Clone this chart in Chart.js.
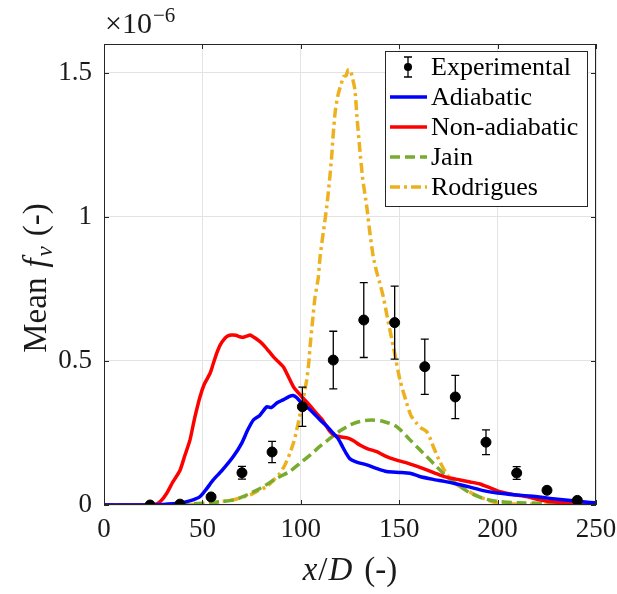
<!DOCTYPE html>
<html>
<head>
<meta charset="utf-8">
<script src="https://cdn.jsdelivr.net/npm/chart.js@4.4.1/dist/chart.umd.min.js"></script>
<style>
  html, body { margin: 0; padding: 0; background: #fff; }
  #wrap { width: 617px; height: 594px; }
</style>
</head>
<body>
<div id="wrap"><canvas id="fvChart" width="617" height="594"></canvas></div>
<script>
// values in units of 1e-6
const expX = [23.4, 38.6, 54.4, 70.1, 85.4, 100.8, 116.5, 132, 147.7, 163, 178.5, 194.1, 209.7, 225.1, 240.5];
const expY = [0.0, 0.003, 0.028, 0.112, 0.184, 0.341, 0.503, 0.642, 0.633, 0.480, 0.375, 0.218, 0.111, 0.051, 0.016];
const expErr = [0.002, 0.003, 0.006, 0.022, 0.037, 0.068, 0.10, 0.13, 0.127, 0.096, 0.075, 0.043, 0.022, 0.010, 0.004];

const adiaX = [0, 20, 30, 38, 44, 48.8, 52, 55.5, 60, 65.7, 70, 73, 75.9, 79, 82.7, 85, 88, 91, 94, 96, 98, 101.3, 104, 107, 109.8, 113, 116.5, 119, 121, 123, 125, 128, 133.5, 138, 143.6, 150, 155.5, 160, 167.3, 173, 179.2, 186, 192.7, 200, 209.7, 218, 226.6, 237, 247, 250];
const adiaY = [0, 0, 0.002, 0.006, 0.015, 0.029, 0.055, 0.087, 0.12, 0.168, 0.215, 0.26, 0.295, 0.31, 0.341, 0.338, 0.355, 0.365, 0.376, 0.38, 0.372, 0.347, 0.335, 0.315, 0.295, 0.275, 0.249, 0.23, 0.205, 0.18, 0.16, 0.15, 0.139, 0.128, 0.116, 0.113, 0.110, 0.1, 0.089, 0.082, 0.073, 0.062, 0.05, 0.042, 0.035, 0.03, 0.023, 0.016, 0.009, 0.008];

const nonAdiaX = [0, 20, 26, 29, 31.8, 35, 38.6, 41, 43.7, 46, 48.8, 51, 53.9, 55.5, 57.3, 59, 61.5, 63, 64.9, 67, 69, 70.8, 72.5, 74.2, 76, 79.3, 82, 86, 88.5, 91.1, 93, 96.2, 98, 101.3, 104, 108, 111, 114.8, 117, 120, 124, 127, 130, 134, 138.6, 143, 148.7, 153, 158.8, 164, 170.7, 175, 180.9, 186, 191, 196, 201.2, 208, 214.8, 220, 226.6, 235, 247, 250];
const nonAdiaY = [0, 0, 0.002, 0.015, 0.04, 0.08, 0.12, 0.17, 0.226, 0.3, 0.376, 0.42, 0.457, 0.49, 0.527, 0.555, 0.579, 0.587, 0.59, 0.589, 0.584, 0.582, 0.586, 0.59, 0.583, 0.567, 0.548, 0.515, 0.498, 0.48, 0.455, 0.411, 0.395, 0.37, 0.35, 0.318, 0.295, 0.255, 0.242, 0.237, 0.232, 0.222, 0.208, 0.195, 0.185, 0.17, 0.156, 0.148, 0.135, 0.122, 0.104, 0.095, 0.087, 0.08, 0.073, 0.06, 0.046, 0.036, 0.029, 0.02, 0.012, 0.008, 0.006, 0.006];

const jainX = [0, 20, 30, 40, 50, 53.9, 60, 65.7, 70, 74.2, 80, 87.8, 94, 99.6, 105, 110, 116.5, 121, 125, 130, 136, 142, 148.7, 155.5, 160, 164, 168, 172.4, 176, 180.9, 186, 192.7, 197, 201.2, 210, 225, 250];
const jainY = [0, 0, 0.001, 0.003, 0.006, 0.008, 0.012, 0.017, 0.027, 0.04, 0.06, 0.093, 0.115, 0.145, 0.175, 0.205, 0.24, 0.262, 0.278, 0.29, 0.295, 0.29, 0.272, 0.226, 0.195, 0.168, 0.14, 0.110, 0.088, 0.064, 0.042, 0.023, 0.016, 0.012, 0.008, 0.006, 0.005];

const rodX = [0, 40, 50, 60, 67, 74.2, 78, 82.7, 86, 89.4, 92, 94.5, 96.5, 97.9, 99.2, 100.4, 101.8, 103, 104, 104.7, 106, 107.2, 108.9, 109.8, 111.5, 113.2, 114.5, 115.7, 116.5, 117.4, 118.5, 119.6, 120.5, 121.6, 123, 124, 125, 126, 127.5, 128.5, 130, 131.5, 133.5, 135, 136.8, 138.5, 140.2, 142, 144, 147, 150.4, 153.8, 156, 158.8, 161, 163.9, 165.5, 167.3, 170, 172.4, 175, 177.5, 181, 184.3, 188, 192.7, 197, 201.2, 210, 230, 250];
const rodY = [0, 0, 0.005, 0.012, 0.02, 0.035, 0.048, 0.064, 0.085, 0.11, 0.14, 0.18, 0.22, 0.26, 0.3, 0.341, 0.39, 0.434, 0.49, 0.55, 0.64, 0.72, 0.79, 0.862, 0.95, 1.036, 1.12, 1.21, 1.29, 1.36, 1.41, 1.441, 1.46, 1.487, 1.49, 1.51, 1.51, 1.49, 1.441, 1.35, 1.233, 1.13, 1.036, 0.95, 0.862, 0.81, 0.77, 0.72, 0.65, 0.55, 0.434, 0.353, 0.31, 0.284, 0.268, 0.255, 0.235, 0.203, 0.16, 0.127, 0.1, 0.081, 0.063, 0.052, 0.037, 0.023, 0.012, 0.006, 0.003, 0.002, 0.002];

const xTicks = [0, 50, 100, 150, 200, 250];
const yTicks = [0, 0.5, 1, 1.5];
const seriesNames = ['Experimental', 'Adiabatic', 'Non-adiabatic', 'Jain', 'Rodrigues'];

const SERIF = '"Liberation Serif", "DejaVu Serif", serif';
const AXIS_COLOR = '#262626';

function pts(xs, ys) {
    return xs.map((x, i) => ({ x: x, y: ys[i] }));
}

// error bars for the experimental points
const errorBarPlugin = {
    id: 'errorBars',
    afterDatasetsDraw(chart) {
        const ctx = chart.ctx;
        const xs = chart.scales.x, ys = chart.scales.y;
        ctx.save();
        ctx.strokeStyle = '#000';
        ctx.lineWidth = 1.3;
        expX.forEach((x, i) => {
            if (expErr[i] < 0.01) return;
            const px = xs.getPixelForValue(x);
            const top = ys.getPixelForValue(expY[i] + expErr[i]);
            const bot = ys.getPixelForValue(expY[i] - expErr[i]);
            ctx.beginPath();
            ctx.moveTo(px, top); ctx.lineTo(px, bot);
            ctx.moveTo(px - 4, top); ctx.lineTo(px + 4, top);
            ctx.moveTo(px - 4, bot); ctx.lineTo(px + 4, bot);
            ctx.stroke();
        });
        ctx.restore();
    }
};

// box, inward ticks, axis titles, exponent and legend (MATLAB style)
const decorPlugin = {
    id: 'decor',
    afterDraw(chart) {
        const ctx = chart.ctx;
        const a = chart.chartArea;
        const xs = chart.scales.x, ys = chart.scales.y;
        ctx.save();

        // box
        ctx.strokeStyle = AXIS_COLOR;
        ctx.lineWidth = 1;
        ctx.strokeRect(a.left + 0.5, a.top + 0.5, a.right - a.left - 1, a.bottom - a.top - 1);

        // inward ticks
        ctx.beginPath();
        xTicks.forEach(v => {
            const px = Math.round(xs.getPixelForValue(v)) + 0.5;
            ctx.moveTo(px, a.bottom); ctx.lineTo(px, a.bottom - 5);
            ctx.moveTo(px, a.top); ctx.lineTo(px, a.top + 5);
        });
        yTicks.forEach(v => {
            const py = Math.round(ys.getPixelForValue(v)) + 0.5;
            ctx.moveTo(a.left, py); ctx.lineTo(a.left + 5, py);
            ctx.moveTo(a.right, py); ctx.lineTo(a.right - 5, py);
        });
        ctx.stroke();

        ctx.fillStyle = '#1a1a1a';
        ctx.textBaseline = 'alphabetic';

        // exponent label
        ctx.font = '30px ' + SERIF;
        ctx.textAlign = 'left';
        ctx.fillText('\u00d710', 105, 33);
        const w10 = ctx.measureText('\u00d710').width;
        ctx.font = '21px ' + SERIF;
        ctx.fillText('\u22126', 105 + w10 + 1, 22);

        // x axis title
        const xParts = [
            ['x', 'italic 33px ' + SERIF, 0, 1],
            ['/', '33px ' + SERIF, 0, 1],
            ['D', 'italic 33px ' + SERIF, 0, 12],
            ['(-)', '33px ' + SERIF, 0, 0]
        ];
        drawParts(ctx, xParts, 350, 580);

        // y axis title, rotated
        ctx.translate(46, 278);
        ctx.rotate(-Math.PI / 2);
        const yParts = [
            ['Mean', '33px ' + SERIF, 0, 10],
            ['f', 'italic 33px ' + SERIF, 0, 2],
            ['v', 'italic 23px ' + SERIF, 6, 10],
            ['(-)', '33px ' + SERIF, 0, 0]
        ];
        drawParts(ctx, yParts, 0, 0);
        ctx.setTransform(1, 0, 0, 1, 0, 0);

        // legend
        const lx = 385, ly = 51, lw = 202, lh = 155;
        ctx.fillStyle = '#fff';
        ctx.fillRect(lx, ly, lw, lh);
        ctx.strokeStyle = AXIS_COLOR;
        ctx.lineWidth = 1;
        ctx.strokeRect(lx + 0.5, ly + 0.5, lw, lh);
        const rowY = [67, 97, 127, 157, 187];
        ctx.font = '26px ' + SERIF;
        ctx.textAlign = 'left';
        ctx.textBaseline = 'middle';
        seriesNames.forEach((name, i) => {
            const y = rowY[i];
            if (i === 0) {
                ctx.strokeStyle = '#000';
                ctx.lineWidth = 1.3;
                ctx.beginPath();
                ctx.moveTo(408, y - 10); ctx.lineTo(408, y + 10);
                ctx.moveTo(404, y - 10); ctx.lineTo(412, y - 10);
                ctx.moveTo(404, y + 10); ctx.lineTo(412, y + 10);
                ctx.stroke();
                ctx.fillStyle = '#000';
                ctx.beginPath();
                ctx.arc(408, y, 4, 0, Math.PI * 2);
                ctx.fill();
            } else {
                const ds = chart.data.datasets[i];
                ctx.strokeStyle = ds.borderColor;
                ctx.lineWidth = 3.5;
                ctx.setLineDash(ds.borderDash || []);
                ctx.beginPath();
                ctx.moveTo(390, y); ctx.lineTo(427, y);
                ctx.stroke();
                ctx.setLineDash([]);
            }
            ctx.fillStyle = '#000';
            ctx.fillText(name, 431, y + 1);
        });

        ctx.restore();
    }
};

// parts: [text, font, baseline shift, gap after]
function drawParts(ctx, parts, cx, baseY) {
    let total = 0;
    parts.forEach(p => { ctx.font = p[1]; total += ctx.measureText(p[0]).width + p[3]; });
    let x = cx - total / 2;
    ctx.textAlign = 'left';
    parts.forEach(p => {
        ctx.font = p[1];
        ctx.fillText(p[0], x, baseY + p[2]);
        x += ctx.measureText(p[0]).width + p[3];
    });
}

const config = {
    type: 'line',
    data: {
        datasets: [
            {
                label: seriesNames[0],
                data: pts(expX, expY),
                showLine: false,
                pointRadius: 5,
                pointBackgroundColor: '#000',
                pointBorderColor: '#000',
                borderColor: '#000'
            },
            {
                label: seriesNames[1],
                data: pts(adiaX, adiaY),
                borderColor: '#0000ff',
                borderWidth: 3.5,
                pointRadius: 0,
                tension: 0.2
            },
            {
                label: seriesNames[2],
                data: pts(nonAdiaX, nonAdiaY),
                borderColor: '#ff0000',
                borderWidth: 3.5,
                pointRadius: 0,
                tension: 0.2
            },
            {
                label: seriesNames[3],
                data: pts(jainX, jainY),
                borderColor: '#77ac30',
                borderWidth: 3.5,
                borderDash: [10, 5],
                pointRadius: 0,
                tension: 0.3
            },
            {
                label: seriesNames[4],
                data: pts(rodX, rodY),
                borderColor: '#edb120',
                borderWidth: 3.5,
                borderDash: [10, 4, 3, 4],
                pointRadius: 0,
                tension: 0.2
            }
        ]
    },
    options: {
        responsive: false,
        animation: false,
        layout: { padding: { left: 0, top: 44, right: 21, bottom: 0 } },
        plugins: {
            legend: { display: false },
            tooltip: { enabled: false }
        },
        scales: {
            x: {
                type: 'linear',
                min: 0, max: 250,
                afterBuildTicks: s => { s.ticks = xTicks.map(v => ({ value: v })); },
                afterFit: s => { s.height = 89; s.paddingLeft = 0; s.paddingRight = 0; },
                grid: { color: '#e3e3e3', drawTicks: false },
                border: { display: false },
                ticks: {
                    padding: 9,
                    color: '#1a1a1a',
                    font: { family: SERIF, size: 27 },
                    maxRotation: 0
                }
            },
            y: {
                min: 0, max: 1.6,
                afterBuildTicks: s => { s.ticks = yTicks.map(v => ({ value: v })); },
                afterFit: s => { s.width = 104; s.paddingTop = 0; s.paddingBottom = 0; },
                grid: { color: '#e3e3e3', drawTicks: false },
                border: { display: false },
                ticks: {
                    padding: 12,
                    color: '#1a1a1a',
                    font: { family: SERIF, size: 27 },
                    callback: v => String(v)
                }
            }
        }
    },
    plugins: [errorBarPlugin, decorPlugin]
};

new Chart(document.getElementById('fvChart'), config);
</script>
</body>
</html>
